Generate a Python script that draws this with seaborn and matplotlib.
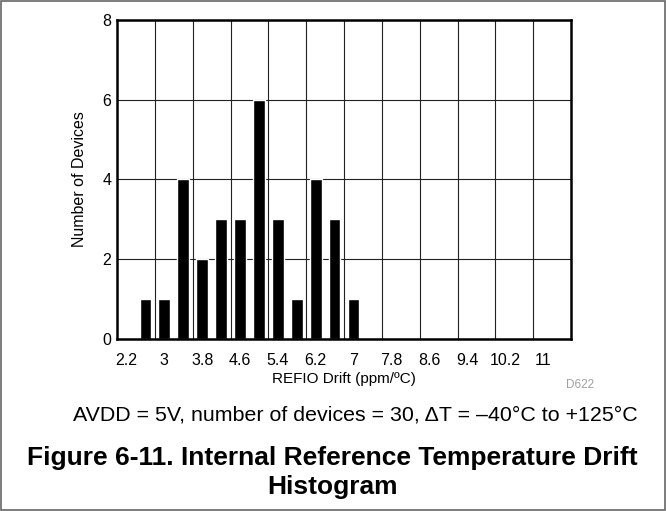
import matplotlib
matplotlib.use("Agg")
import matplotlib.pyplot as plt
import seaborn as sns
from matplotlib.patches import Rectangle

# histogram bins (ppm/ºC) and device counts
drift_bins = ["2.2", "2.6", "3", "3.4", "3.8", "4.2", "4.6", "5", "5.4", "5.8",
              "6.2", "6.6", "7", "7.4", "7.8", "8.2", "8.6", "9", "9.4", "9.8",
              "10.2", "10.6", "11", "11.4"]
num_devices = [0, 1, 1, 4, 2, 3, 3, 6, 3, 1,
               4, 3, 1, 0, 0, 0, 0, 0, 0, 0,
               0, 0, 0, 0]
tick_labels = ["2.2", "3", "3.8", "4.6", "5.4", "6.2", "7", "7.8", "8.6", "9.4", "10.2", "11"]
y_ticks = [0, 2, 4, 6, 8]

sns.set_style("white")
plt.rcParams["font.family"] = ["Liberation Sans", "DejaVu Sans"]
plt.rcParams["text.color"] = "black"
plt.rcParams["axes.labelcolor"] = "black"
plt.rcParams["xtick.color"] = "black"
plt.rcParams["ytick.color"] = "black"

fig = plt.figure(figsize=(6.66, 5.11), dpi=100)
ax = fig.add_axes([0.1757, 0.3366, 0.6817, 0.6243])

sns.barplot(x=drift_bins, y=num_devices, order=drift_bins, color="black",
            saturation=1, width=0.62, ax=ax)

# grid: vertical lines between every second bin, horizontal at y ticks
ax.set_axisbelow(True)
ax.set_xlim(-0.5, len(drift_bins) - 0.5)
ax.set_ylim(0, 8)
ax.set_xticks(range(0, len(drift_bins), 2))
ax.set_xticklabels(tick_labels)
ax.set_xticks([i + 1.5 for i in range(0, len(drift_bins) - 2, 2)], minor=True)
ax.set_yticks(y_ticks)
ax.grid(True, which="minor", axis="x", color="#222222", linewidth=0.8)
ax.grid(True, which="major", axis="y", color="#222222", linewidth=0.8)
ax.grid(False, which="major", axis="x")

for s in ax.spines.values():
    s.set_visible(True)
    s.set_color("black")
    s.set_linewidth(1.8)

ax.tick_params(axis="both", which="both", length=0, labelsize=11.5)
ax.tick_params(axis="x", pad=10)
ax.tick_params(axis="y", pad=4)
ax.set_xlabel("REFIO Drift (ppm/ºC)", fontsize=11, labelpad=3)
ax.set_ylabel("Number of Devices", fontsize=11.5, labelpad=11)

fig.text(0.871, 0.2466, "D622", fontsize=8.5, color="#a0a0a0", ha="center", va="center")
fig.text(0.533, 0.188, "AVDD = 5V, number of devices = 30, ΔT = –40°C to +125°C",
         fontsize=15.4, ha="center", va="center")
fig.text(0.4985, 0.104, "Figure 6-11. Internal Reference Temperature Drift",
         fontsize=19, fontweight="bold", ha="center", va="center")
fig.text(0.4985, 0.047, "Histogram", fontsize=19, fontweight="bold", ha="center", va="center")

# thin grey border round the whole figure
fig.patches.append(Rectangle((0.001, 0.001), 0.997, 0.997, transform=fig.transFigure,
                             fill=False, edgecolor="#666666", linewidth=1.2))

fig.savefig("out.png", dpi=100)
